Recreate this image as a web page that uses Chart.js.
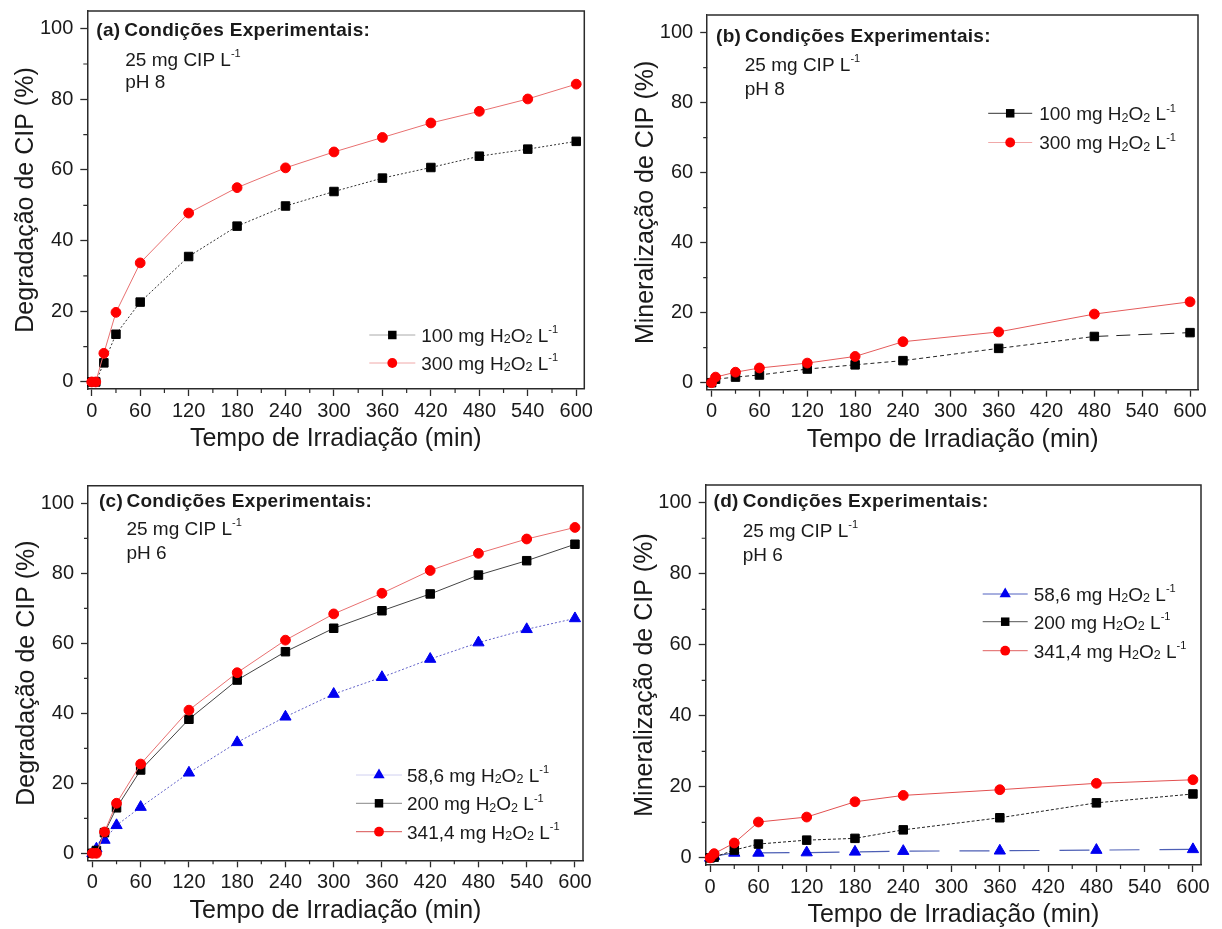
<!DOCTYPE html>
<html lang="pt">
<head>
<meta charset="utf-8">
<title>Degradação e mineralização de CIP</title>
<script src="https://cdn.jsdelivr.net/npm/chart.js@4.4.1/dist/chart.umd.min.js"></script>
<style>
  html, body { margin: 0; padding: 0; background: #fff; }
  #figure { position: relative; width: 1222px; height: 929px; overflow: hidden; }
  #figure canvas { position: absolute; }
</style>
</head>
<body>
<div id="figure">
  <canvas id="panelA"></canvas>
  <canvas id="panelB"></canvas>
  <canvas id="panelC"></canvas>
  <canvas id="panelD"></canvas>
</div>
<script>
// ---- data -------------------------------------------------------------

const xTickValues = [0, 60, 120, 180, 240, 300, 360, 420, 480, 540, 600];
const xMinorTicks = [30, 90, 150, 210, 270, 330, 390, 450, 510, 570];
const yTickValues = [0, 20, 40, 60, 80, 100];
const yMinorTicks = [10, 30, 50, 70, 90];

// (a) degradação, pH 8
const timesA = [0, 5, 15, 30, 60, 120, 180, 240, 300, 360, 420, 480, 540, 600];
const degradA100 = [0, 0, 5.4, 13.5, 22.6, 35.5, 44.1, 49.8, 53.9, 57.7, 60.7, 63.9, 65.9, 68.1];
const degradA300 = [0, 0, 8.1, 19.7, 33.7, 47.8, 55.0, 60.6, 65.1, 69.2, 73.3, 76.6, 80.1, 84.3];

// (b) mineralização, pH 8
const timesB = [0, 5, 30, 60, 120, 180, 240, 360, 480, 600];
const mineralB100 = [0, 1.0, 1.6, 2.2, 3.9, 5.1, 6.3, 9.8, 13.2, 14.3];
const mineralB300 = [0, 1.6, 3.0, 4.2, 5.6, 7.5, 11.7, 14.5, 19.6, 23.1];

// (c) degradação, pH 6
const timesC = [0, 5, 15, 30, 60, 120, 180, 240, 300, 360, 420, 480, 540, 600];
const degradC58 = [0, 1.3, 3.8, 8.0, 13.2, 23.0, 31.7, 39.0, 45.5, 50.3, 55.5, 60.2, 64.0, 67.1];
const degradC200 = [0, 0.8, 5.9, 13.0, 23.8, 38.3, 49.5, 57.6, 64.3, 69.3, 74.1, 79.5, 83.6, 88.3];
const degradC341 = [0, 0, 6.1, 14.3, 25.5, 40.9, 51.6, 60.9, 68.4, 74.3, 80.8, 85.7, 89.8, 93.1];

// (d) mineralização, pH 6
const timesD = [0, 5, 30, 60, 120, 180, 240, 360, 480, 600];
const mineralD58 = [0, 0.5, 1.4, 1.4, 1.5, 1.7, 1.9, 2.0, 2.2, 2.4];
const mineralD200 = [0, 0.2, 2.2, 3.9, 5.0, 5.5, 7.9, 11.3, 15.5, 18.0];
const mineralD341 = [0, 1.2, 4.2, 10.1, 11.5, 15.8, 17.6, 19.2, 21.0, 22.0];

const label58 = '58,6 mg H₂O₂ L⁻¹';
const label100 = '100 mg H₂O₂ L⁻¹';
const label200 = '200 mg H₂O₂ L⁻¹';
const label300 = '300 mg H₂O₂ L⁻¹';
const label341 = '341,4 mg H₂O₂ L⁻¹';

const xTitle = 'Tempo de Irradiação (min)';
const yTitleDeg = 'Degradação de CIP (%)';
const yTitleMin = 'Mineralização de CIP (%)';
const heading = 'Condições Experimentais:';
const conditionsPH8 = ['25 mg CIP L⁻¹', 'pH 8'];
const conditionsPH6 = ['25 mg CIP L⁻¹', 'pH 6'];

// ---- styles -----------------------------------------------------------

const FONT = "'Liberation Sans', Arial, sans-serif";
const TEXT_COLOR = '#1a1a1a';
const FRAME_COLOR = '#2b2b2b';
const TITLE_SIZE = 25;

Chart.defaults.font.family = FONT;
Chart.defaults.color = TEXT_COLOR;

const squareStyle = { pointStyle: 'rect', pointRadius: 6, pointBackgroundColor: '#000', pointBorderColor: '#000' };
const circleStyle = { pointStyle: 'circle', pointRadius: 4.9, pointBackgroundColor: '#f00', pointBorderColor: '#f00' };
const triangleStyle = { pointStyle: 'triangle', pointRadius: 6.5, pointBackgroundColor: '#0000f0', pointBorderColor: '#0000f0' };

function series(label, times, values, marker, line, order) {
  return Object.assign({
    label: label,
    data: times.map((t, i) => ({ x: t, y: values[i] })),
    borderWidth: 1,
    pointBorderWidth: 1,
    pointHoverRadius: 0,
    tension: 0,
    fill: false,
    clip: false,
    order: order
  }, marker, line);
}

// ---- drawing helpers --------------------------------------------------

const SUBSCRIPT = { '₂': '2' };
const SUPERSCRIPT = { '⁻': '-', '¹': '1' };

// Draws text with H₂O₂ style subscripts and L⁻¹ style superscripts
function drawRichText(ctx, text, x, y, size, weight) {
  let cx = x;
  for (const ch of text) {
    let glyph = ch, scale = 1, shift = 0;
    if (SUBSCRIPT[ch]) { glyph = SUBSCRIPT[ch]; scale = 0.66; shift = size * 0.08; }
    else if (SUPERSCRIPT[ch]) { glyph = SUPERSCRIPT[ch]; scale = 0.58; shift = -size * 0.45; }
    ctx.font = weight + ' ' + (size * scale) + 'px ' + FONT;
    ctx.fillText(glyph, cx, y + shift);
    cx += ctx.measureText(glyph).width;
  }
}

function drawMarker(ctx, style, x, y, r, color) {
  ctx.fillStyle = color;
  ctx.beginPath();
  if (style === 'rect') {
    const s = r * Math.SQRT1_2;
    ctx.rect(x - s, y - s, 2 * s, 2 * s);
  } else if (style === 'triangle') {
    for (let k = 0; k < 3; k++) {
      const a = k * 2 * Math.PI / 3;
      ctx.lineTo(x + Math.sin(a) * r, y - Math.cos(a) * r);
    }
    ctx.closePath();
  } else {
    ctx.arc(x, y, r, 0, 2 * Math.PI);
  }
  ctx.fill();
}

// top/right edges of the axis box and the short minor ticks
const frameBox = {
  id: 'frameBox',
  beforeDatasetsDraw(chart) {
    const { ctx, chartArea: a, scales } = chart;
    ctx.save();
    ctx.strokeStyle = FRAME_COLOR;
    ctx.lineWidth = 1.5;
    ctx.beginPath();
    ctx.moveTo(a.left, a.top);
    ctx.lineTo(a.right, a.top);
    ctx.lineTo(a.right, a.bottom);
    ctx.stroke();
    ctx.lineWidth = 1.2;
    ctx.beginPath();
    xMinorTicks.forEach(v => {
      const px = scales.x.getPixelForValue(v);
      ctx.moveTo(px, a.bottom);
      ctx.lineTo(px, a.bottom + 4);
    });
    yMinorTicks.forEach(v => {
      const py = scales.y.getPixelForValue(v);
      ctx.moveTo(a.left - 4, py);
      ctx.lineTo(a.left, py);
    });
    ctx.stroke();
    ctx.restore();
  }
};

// panel tag + experimental conditions in the upper left corner
const panelNotes = {
  id: 'panelNotes',
  afterDatasetsDraw(chart, args, opts) {
    const { ctx, chartArea: a } = chart;
    ctx.save();
    ctx.fillStyle = TEXT_COLOR;
    ctx.textBaseline = 'alphabetic';
    ctx.textAlign = 'left';
    ctx.letterSpacing = '0.3px';
    drawRichText(ctx, opts.tag, a.left + opts.tagX, a.top + opts.baselines[0], 19, 'bold');
    drawRichText(ctx, opts.heading, a.left + opts.headingX, a.top + opts.baselines[0], 19, 'bold');
    ctx.letterSpacing = '0px';
    opts.lines.forEach((line, i) => {
      drawRichText(ctx, line, a.left + opts.linesX, a.top + opts.baselines[i + 1], 19, 'normal');
    });
    ctx.restore();
  }
};

// legend inside the plot: line sample + marker + label
const panelLegend = {
  id: 'panelLegend',
  afterDatasetsDraw(chart, args, opts) {
    const { ctx, chartArea: a } = chart;
    chart.data.datasets.forEach((ds, i) => {
      const y = a.top + opts.rows[i];
      const x0 = a.left + opts.lineFrom;
      const x1 = a.left + opts.lineTo;
      ctx.save();
      ctx.strokeStyle = ds.legendLineColor || ds.borderColor;
      ctx.lineWidth = 1;
      ctx.beginPath();
      ctx.moveTo(x0, y);
      ctx.lineTo(x1, y);
      ctx.stroke();
      drawMarker(ctx, ds.pointStyle, (x0 + x1) / 2, y, ds.pointRadius, ds.pointBackgroundColor);
      ctx.fillStyle = TEXT_COLOR;
      ctx.textBaseline = 'alphabetic';
      drawRichText(ctx, ds.label, a.left + opts.textX, y + 19 * 0.36, 19, 'normal');
      ctx.restore();
    });
  }
};

// ---- panels -----------------------------------------------------------

const panels = [
  {
    id: 'panelA',
    box: { left: 0, top: 0, width: 611, height: 464 },
    frame: { left: 87.3, top: 11, right: 584.3, bottom: 389 },
    yTitle: yTitleDeg,
    notes: { tag: '(a)', heading: heading, lines: conditionsPH8, tagX: 9, headingX: 37, linesX: 38, baselines: [25, 54.7, 77.3] },
    legend: { lineFrom: 282, lineTo: 328, textX: 334, rows: [324, 352] },
    datasets: [
      series(label100, timesA, degradA100, squareStyle, { borderColor: '#333', borderDash: [2, 2], legendLineColor: '#aaa' }, 1),
      series(label300, timesA, degradA300, circleStyle, { borderColor: '#e87070', legendLineColor: '#f0a8a8' }, 0)
    ]
  },
  {
    id: 'panelB',
    box: { left: 611, top: 0, width: 611, height: 464 },
    frame: { left: 707.2, top: 15, right: 1198, bottom: 389.7 },
    yTitle: yTitleMin,
    notes: { tag: '(b)', heading: heading, lines: conditionsPH8, tagX: 8.8, headingX: 37.8, linesX: 37.6, baselines: [26.7, 56, 80] },
    legend: { lineFrom: 281, lineTo: 325, textX: 332, rows: [98.3, 127.5] },
    datasets: [
      series(label100, timesB, mineralB100, squareStyle, {
        borderColor: '#222', borderDash: [4, 3], legendLineColor: '#333',
        segment: { borderDash: ctx => (ctx.p0DataIndex === 8 ? [14, 8] : undefined) }
      }, 1),
      series(label300, timesB, mineralB300, circleStyle, { borderColor: '#e45b5b', legendLineColor: '#f0a8a8' }, 0)
    ]
  },
  {
    id: 'panelC',
    box: { left: 0, top: 464, width: 611, height: 465 },
    frame: { left: 88, top: 485.8, right: 583, bottom: 860.3 },
    yTitle: yTitleDeg,
    notes: { tag: '(c)', heading: heading, lines: conditionsPH6, tagX: 10.9, headingX: 38.4, linesX: 38.4, baselines: [21, 49.2, 73.5] },
    legend: { lineFrom: 268, lineTo: 314, textX: 319, rows: [289.2, 317.5, 345.9] },
    datasets: [
      series(label58, timesC, degradC58, triangleStyle, { borderColor: '#6060c8', borderDash: [2, 2], legendLineColor: '#d0d0f0' }, 2),
      series(label200, timesC, degradC200, squareStyle, { borderColor: '#444', legendLineColor: '#888' }, 1),
      series(label341, timesC, degradC341, circleStyle, { borderColor: '#e87070', legendLineColor: '#d85050' }, 0)
    ]
  },
  {
    id: 'panelD',
    box: { left: 611, top: 464, width: 611, height: 465 },
    frame: { left: 705.7, top: 485, right: 1201, bottom: 865 },
    yTitle: yTitleMin,
    notes: { tag: '(d)', heading: heading, lines: conditionsPH6, tagX: 7.8, headingX: 37, linesX: 37, baselines: [21.7, 51.7, 75.7] },
    legend: { lineFrom: 277, lineTo: 322, textX: 328, rows: [109, 136.7, 165.7] },
    datasets: [
      series(label58, timesD, mineralD58, triangleStyle, { borderColor: '#4d5fb5', borderWidth: 1.2, borderDash: [30, 20], legendLineColor: '#5060c0' }, 2),
      series(label200, timesD, mineralD200, squareStyle, { borderColor: '#222', borderDash: [3, 2], legendLineColor: '#555' }, 1),
      series(label341, timesD, mineralD341, circleStyle, { borderColor: '#e25050', legendLineColor: '#e06060' }, 0)
    ]
  }
];

// Fixed axis boxes so every plot frame lands where it should on the page
function layoutFor(box, frame) {
  return {
    padding: { top: frame.top - box.top, right: box.left + box.width - frame.right, bottom: 0, left: 0 },
    yAxisWidth: frame.left - box.left,
    xAxisHeight: box.top + box.height - frame.bottom,
    yTitlePad: frame.left - 61 - box.left - TITLE_SIZE / 2,
    xTitlePad: box.top + box.height - (frame.bottom + 50.5) - TITLE_SIZE / 2
  };
}

function buildPanel(panel) {
  const canvas = document.getElementById(panel.id);
  canvas.width = panel.box.width;
  canvas.height = panel.box.height;
  canvas.style.left = panel.box.left + 'px';
  canvas.style.top = panel.box.top + 'px';
  const lay = layoutFor(panel.box, panel.frame);

  const axisGrid = { display: true, drawOnChartArea: false, drawTicks: true, tickLength: 7, tickColor: FRAME_COLOR, tickWidth: 1.3 };
  const axisBorder = { display: true, color: FRAME_COLOR, width: 1.5 };

  return new Chart(canvas, {
    type: 'line',
    data: { datasets: panel.datasets },
    plugins: [frameBox, panelNotes, panelLegend],
    options: {
      responsive: false,
      animation: false,
      devicePixelRatio: 1,
      events: [],
      layout: { padding: lay.padding },
      plugins: {
        legend: { display: false },
        tooltip: { enabled: false },
        panelNotes: panel.notes,
        panelLegend: panel.legend
      },
      scales: {
        x: {
          type: 'linear',
          min: -5.5,
          max: 610,
          grid: axisGrid,
          border: axisBorder,
          afterBuildTicks: s => { s.ticks = xTickValues.map(v => ({ value: v })); },
          afterFit: s => { s.height = lay.xAxisHeight; s.paddingLeft = 0; s.paddingRight = 0; },
          ticks: { font: { size: 20 }, color: TEXT_COLOR, padding: 3, autoSkip: false, maxRotation: 0 },
          title: {
            display: true, text: xTitle, color: TEXT_COLOR,
            font: { size: TITLE_SIZE, lineHeight: 1 },
            padding: { top: 0, bottom: lay.xTitlePad }
          }
        },
        y: {
          type: 'linear',
          min: -2,
          max: 105,
          grid: axisGrid,
          border: axisBorder,
          afterBuildTicks: s => { s.ticks = yTickValues.map(v => ({ value: v })); },
          afterFit: s => { s.width = lay.yAxisWidth; s.paddingTop = 0; s.paddingBottom = 0; },
          ticks: { font: { size: 20 }, color: TEXT_COLOR, padding: 7 },
          title: {
            display: true, text: panel.yTitle, color: TEXT_COLOR,
            font: { size: TITLE_SIZE, lineHeight: 1 },
            padding: { top: lay.yTitlePad, bottom: 0 }
          }
        }
      }
    }
  });
}

panels.forEach(buildPanel);
</script>
</body>
</html>
